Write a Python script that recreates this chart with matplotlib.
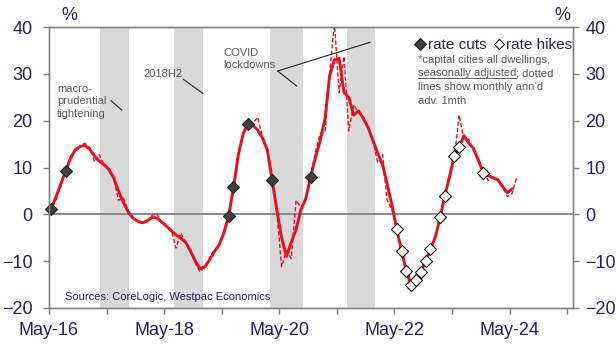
import pandas as pd
import matplotlib
matplotlib.use('Agg')
import matplotlib.pyplot as plt
from matplotlib.lines import Line2D

plt.rcParams['font.family'] = ['Liberation Sans', 'DejaVu Sans']

NAVY = '#262262'
GREY_TXT = '#595959'
RED = '#e8101a'
BAND = '#d9d9d9'

# dwelling prices, capital cities, %ann'd (smoothed), monthly from May-16
growth = [
    1.1, 3.8, 6.5, 9.25, 12.0, 13.8, 14.5, 14.7, 13.9, 12.4, 11.4, 10.6,
    9.6, 7.8, 5.0, 2.6, 0.5, -0.8, -1.5, -1.8, -1.4, -0.6, -0.8, -1.6,
    -2.5, -3.5, -4.4, -5.1, -6.0, -7.8, -10.0, -11.6, -11.2, -9.6, -8.0, -6.5,
    -4.0, -0.3, 5.8, 12.8, 17.3, 19.3, 19.0, 18.0, 16.3, 13.7, 7.4, 1.0,
    -5.0, -9.0, -6.0, -3.2, 1.0, 3.3, 8.0, 12.0, 15.8, 20.5, 29.5, 33.0,
    33.3, 26.0, 25.0, 21.2, 22.1, 20.5, 18.5, 15.8, 13.0, 10.5, 6.5, 2.0,
    -3.1, -7.9, -12.0, -15.0, -14.1, -12.3, -9.9, -7.5, -4.8, -0.6, 3.9, 8.0,
    12.5, 14.3, 16.8, 15.2, 14.0, 11.5, 8.9, 8.3, 7.8, 7.4, 6.0, 4.6,
    5.4,
]

# monthly %ann'd, advanced one month (so it starts Jun-16)
growth_1m = [
    3.0, 6.0, 9.5, 12.5, 13.5, 14.6, 15.2, 14.2, 11.2, 12.8, 10.5,
    10.0, 8.0, 3.0, 3.5, 0.8, -0.8, -1.4, -1.9, -1.2, -0.2, 0.2, -1.8,
    -2.6, -3.2, -7.2, -4.0, -6.2, -8.0, -10.4, -12.3, -11.0, -9.2, -7.6, -6.8,
    -3.4, 0.4, 5.0, 13.0, 17.5, 19.8, 19.5, 20.7, 16.5, 13.9, 9.0, 0.5,
    -11.2, -7.8, -9.4, 3.0, 1.5, 3.5, 8.3, 13.3, 17.3, 17.5, 30.0, 41.0,
    26.0, 33.7, 17.8, 23.4, 21.8, 20.8, 18.8, 15.5, 11.0, 12.7, 3.0, 1.0,
    -3.5, -7.5, -12.8, -15.5, -14.0, -12.0, -9.6, -7.0, -5.0, 0.0, 3.6, 8.5,
    11.8, 21.2, 16.0, 16.0, 13.6, 11.8, 9.3, 7.2, 8.0, 7.2, 6.2, 3.8,
    4.4, 8.0,
]

rate_cuts = ['2016-05', '2016-08', '2019-06', '2019-07', '2019-10', '2020-03', '2020-11']
rate_hikes = ['2022-05', '2022-06', '2022-07', '2022-08', '2022-09', '2022-10', '2022-11',
              '2022-12', '2023-02', '2023-03', '2023-05', '2023-06', '2023-11']

shaded = [('2017-03-20', '2017-09-20'), ('2018-07-01', '2018-12-31'),
          ('2020-03-01', '2020-09-30'), ('2021-07-01', '2021-10-31'),
          ('2021-11-01', '2021-12-31')]

W, H = 616, 345


def fpos(x, y):
    return x / W, 1 - y / H


mid = pd.Timedelta(days=14)
per = pd.period_range('2016-05', periods=len(growth), freq='M')
dates = per.to_timestamp() + mid
dates_1m = pd.period_range('2016-06', periods=len(growth_1m), freq='M').to_timestamp() + mid
s = pd.Series(growth, index=per)

fig = plt.figure(figsize=(W / 100, H / 100), dpi=100)
ax = fig.add_axes([49 / W, 1 - 308 / H, (573 - 49) / W, (308 - 27) / H])

for a, b in shaded:
    ax.axvspan(pd.Timestamp(a), pd.Timestamp(b), color=BAND, lw=0, zorder=0)

ax.axhline(0, color='#808080', lw=1.3, zorder=1)

ax.plot(dates_1m, growth_1m, color=RED, lw=1.0, ls=(0, (3, 1.6)), zorder=2)
ax.plot(dates, growth, color=RED, lw=2.1, zorder=3)

cp = pd.PeriodIndex(rate_cuts, freq='M')
ax.plot(cp.to_timestamp() + mid, s[cp].values, ls='none', marker='D', ms=6.3,
        mfc='#404040', mec='#202020', mew=0.8, zorder=4, clip_on=False)
hp = pd.PeriodIndex(rate_hikes, freq='M')
ax.plot(hp.to_timestamp() + mid, s[hp].values, ls='none', marker='D', ms=6.0,
        mfc='white', mec='black', mew=0.8, zorder=4, clip_on=False)

ax.set_ylim(-20, 40)
ax.set_yticks(range(-20, 41, 10))
ax.set_xlim(pd.Timestamp('2016-05-01'), pd.Timestamp('2025-06-06'))
xt = pd.date_range('2016-05-01', '2025-05-01', freq='12MS')
ax.set_xticks(xt)
ax.set_xticklabels([d.strftime('%b-%y') if d.year % 2 == 0 else '' for d in xt])

# right-hand scale repeats the left one
ax2 = ax.twinx()
ax2.set_ylim(ax.get_ylim())
ax2.set_yticks(ax.get_yticks())

for a in (ax, ax2):
    for sp in a.spines.values():
        sp.set_color('#808080')
        sp.set_linewidth(1.0)
ax.tick_params(axis='y', direction='out', length=4, width=1, color='#808080',
               labelsize=13, labelcolor=NAVY, pad=8)
ax2.tick_params(axis='y', direction='out', length=4, width=1, color='#808080',
                labelsize=13, labelcolor=NAVY, pad=5)
ax.tick_params(axis='x', direction='out', length=4, width=1, color='#808080',
               labelsize=13, labelcolor=NAVY, pad=6)

fig.text(*fpos(69, 16), '%', color=NAVY, fontsize=13, ha='center', va='center')
fig.text(*fpos(562, 16), '%', color=NAVY, fontsize=13, ha='center', va='center')

# legend for the rate decisions
handles = [Line2D([], [], ls='none', marker='D', ms=6, mfc='#404040', mec='#202020', mew=0.8),
           Line2D([], [], ls='none', marker='D', ms=5.5, mfc='white', mec='black', mew=0.8)]
fig.legend(handles, ['rate cuts', 'rate hikes'], ncol=2, loc='center left',
           bbox_to_anchor=fpos(415, 45), frameon=False, fontsize=11,
           labelcolor=NAVY, handlelength=0.7, handletextpad=0.15,
           columnspacing=0.45, borderpad=0, borderaxespad=0)

note_kw = dict(color=GREY_TXT, fontsize=8, va='center', ha='left')
fig.text(*fpos(418, 60), '*capital cities all dwellings,', **note_kw)
t_sa = fig.text(*fpos(418, 73.5), 'seasonally adjusted', **note_kw)
fig.text(*fpos(418, 87), 'lines show monthly ann\u2019d', **note_kw)
fig.text(*fpos(418, 100.5), 'adv. 1mth', **note_kw)

fig.canvas.draw()
bb = t_sa.get_window_extent(fig.canvas.get_renderer())
x1 = bb.x1 / W
fig.text(x1, 1 - 73.5 / H, '; dotted', **note_kw)
fig.add_artist(Line2D([bb.x0 / W, x1], [(bb.y0 + 0.5) / H] * 2,
                      color=GREY_TXT, lw=0.7))

fig.text(*fpos(57, 84), 'macro-\nprudential\ntightening', color=GREY_TXT,
         fontsize=8, va='top', ha='left', linespacing=1.3)
fig.text(*fpos(143, 74), '2018H2', color=GREY_TXT, fontsize=8, va='center', ha='left')
fig.text(*fpos(223, 59), 'COVID\nlockdowns', color=GREY_TXT, fontsize=8,
         va='center', ha='left', linespacing=1.3)

leaders = [((111, 100.7), (121.7, 110)),
           ((183.3, 79.3), (202.7, 93.3)),
           ((277.7, 71), (296.7, 86)),
           ((277.7, 71), (370, 42.3))]
for p, q in leaders:
    (xa, ya), (xb, yb) = fpos(*p), fpos(*q)
    fig.add_artist(Line2D([xa, xb], [ya, yb], color='#222222', lw=0.8))

ax.text(0.03, 0.04, 'Sources: CoreLogic, Westpac Economics', transform=ax.transAxes,
        color=NAVY, fontsize=8, va='center', ha='left', zorder=5)

fig.savefig('out.png', dpi=100)
